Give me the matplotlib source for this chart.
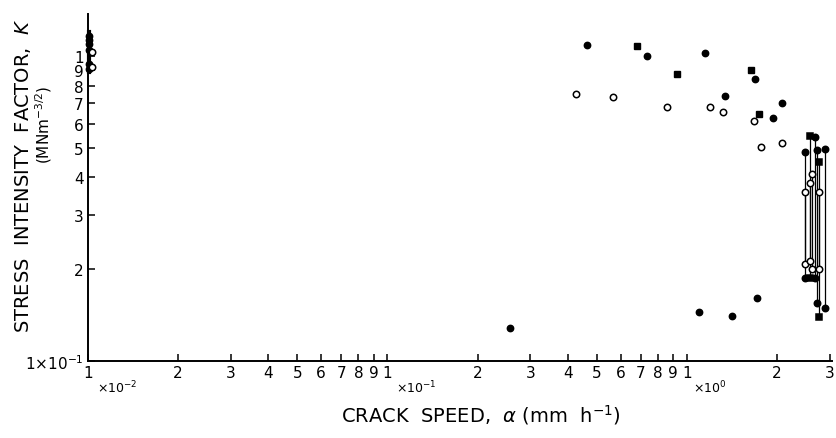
import matplotlib.pyplot as plt
import numpy as np

# crack speed (mm/h) vs stress intensity factor (x10^-1 MNm^-3/2)
fc_x = [0.465, 0.733, 1.148, 1.69, 1.337, 2.07, 1.94, 1.72, 1.099, 1.418, 0.257]
fc_y = [10.9, 9.98, 10.2, 8.39, 7.39, 7.03, 6.26, 1.61, 1.45, 1.40, 1.28]
fs_x = [0.681, 0.927, 1.64, 1.746]
fs_y = [10.8, 8.73, 9.02, 6.47]
oc_x = [0.426, 0.567, 0.857, 1.19, 1.316, 1.68, 1.77, 2.07]
oc_y = [7.49, 7.34, 6.79, 6.79, 6.55, 6.11, 5.03, 5.19]

# vertical runs near the right end
seg_x = [2.47, 2.47, 2.57, 2.57, 2.62, 2.67, 2.71, 2.77, 2.77, 2.89]
seg_top = [4.83, 3.57, 5.45, 3.83, 4.10, 5.41, 4.92, 4.49, 3.57, 4.96]
seg_bot = [1.87, 2.08, 1.87, 2.12, 2.00, 1.87, 1.55, 1.39, 2.00, 1.49]
seg_mk = ['fc', 'oc', 'fs', 'oc', 'oc', 'fc', 'fc', 'fs', 'oc', 'fc']

# cluster at the left axis
lc_x = 0.0101
lc_fill = [11.6, 11.3, 10.95, 10.5, 9.4, 9.06]
lc_open = [10.3, 9.2]
lc_top, lc_bot = 12.0, 8.85

x_ticks = [1e-2 * i for i in range(1, 10)] + [1e-1 * i for i in range(1, 10)] + [1.0, 2.0, 3.0]
x_labels = [str(i) for i in range(1, 10)] * 2 + ['1', '2', '3']
y_ticks = list(range(1, 11))
y_labels = ['1×10$^{-1}$', '2', '3', '4', '5', '6', '7', '8', '9', '1']

plt.rcParams['font.family'] = ['DejaVu Sans']
fig = plt.figure(figsize=(8.37, 4.39), dpi=100)
ax = fig.add_axes([88/837, 77/439, 744/837, 347/439])
ax.set_xscale('log')
ax.set_yscale('log')
ax.set_xlim(0.01, 3.05)
ax.set_ylim(1, 13.73)

mk = {'fc': dict(marker='o', mfc='black'), 'fs': dict(marker='s', mfc='black'),
      'oc': dict(marker='o', mfc='white')}
ms = 4.6

ax.plot(fc_x, fc_y, ls='none', ms=ms, mec='black', clip_on=False, **mk['fc'])
ax.plot(fs_x, fs_y, ls='none', ms=ms, mec='black', clip_on=False, **mk['fs'])
ax.plot(oc_x, oc_y, ls='none', ms=ms, mec='black', mew=1.1, clip_on=False, **mk['oc'])

for x, t, b, m in zip(seg_x, seg_top, seg_bot, seg_mk):
    ax.plot([x, x], [t, b], color='black', lw=0.9, clip_on=False, zorder=2)
    ax.plot([x, x], [t, b], ls='none', ms=ms, mec='black', mew=1.1, clip_on=False, zorder=3, **mk[m])

ax.plot([lc_x, lc_x], [lc_bot, lc_top], color='black', lw=3, clip_on=False)
ax.plot([lc_x] * len(lc_fill), lc_fill, ls='none', ms=ms, mec='black', clip_on=False, **mk['fc'])
ax.plot([lc_x * 1.02] * len(lc_open), lc_open, ls='none', ms=ms, mec='black', mew=1.1, clip_on=False, **mk['oc'])

ax.spines['top'].set_visible(False)
ax.spines['right'].set_visible(False)
ax.spines['left'].set_linewidth(1.4)
ax.spines['bottom'].set_linewidth(1.4)

ax.xaxis.set_minor_locator(plt.NullLocator())
ax.yaxis.set_minor_locator(plt.NullLocator())
ax.set_xticks(x_ticks)
ax.set_xticklabels(x_labels)
ax.set_yticks(y_ticks)
ax.set_yticklabels(y_labels)
ax.tick_params(direction='in', length=5, width=1.1, labelsize=11, pad=3)

# decade multipliers under the x axis
for xv, s in [(0.0107, '×10$^{-2}$'), (0.107, '×10$^{-1}$'), (1.05, '×10$^{0}$')]:
    ax.text(xv, -0.05, s, transform=ax.get_xaxis_transform(), fontsize=9, ha='left', va='top')

fig.text(0.575, 0.055, r'CRACK  SPEED,  $\alpha$ (mm  h$^{-1}$)', fontsize=14, ha='center', va='center')
fig.text(0.027, 0.60, r'STRESS  INTENSITY  FACTOR,  $K$', fontsize=14, rotation=90, ha='center', va='center')
fig.text(0.052, 0.715, r'(MNm$^{-3/2}$)', fontsize=11, rotation=90, ha='center', va='center')

fig.savefig('out.png', dpi=100)
